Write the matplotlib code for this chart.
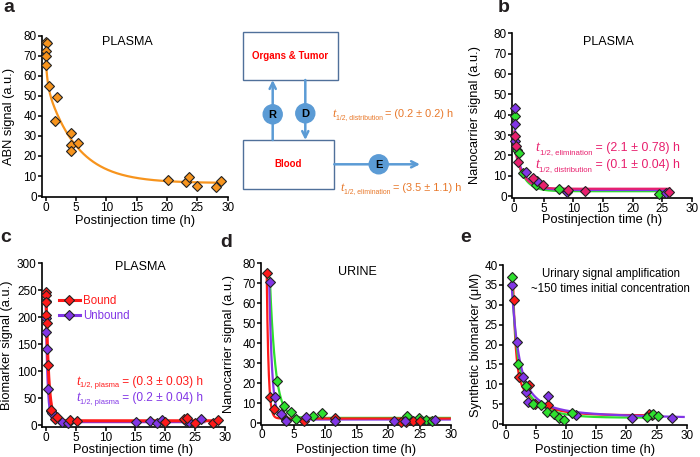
import numpy as np
import matplotlib
matplotlib.use("Agg")
import matplotlib.pyplot as plt
from matplotlib.patches import Rectangle, Circle
from matplotlib.lines import Line2D

plt.rcParams["font.family"] = ["Liberation Sans", "DejaVu Sans"]

ORANGE = "#F7941D"
RED = "#FF1A1A"
PURPLE = "#8236E6"
GREEN = "#2EE02E"
PINK = "#E8206E"
BLUE = "#5B9BD5"
TXT_ORANGE = "#E8782A"

# ---------------- data ----------------
# a: ABN signal in plasma
a_t = [0.1, 0.15, 0.1, 0.05, 0.1, 0.5, 1.9, 1.6, 4.2, 4.1, 4.2, 5.3, 20.2, 23.1, 23.6, 24.9, 28.0, 28.9]
a_y = [77, 76.5, 72.5, 70, 65.5, 55, 49.3, 37.6, 31.3, 25.5, 22.6, 26.6, 7.8, 7.0, 9.7, 5.0, 4.3, 7.3]
a_fit = dict(c=6.5, amps=[12, 50], halves=[0.2, 3.5], t0=0.0, t1=29.0)

# b: nanocarrier signal in plasma
b_purple_t = [0.1, 0.1, 0.2, 1.9, 3.8, 8.9, 25.7]
b_purple_y = [43.4, 35.2, 27.3, 12.0, 7.5, 2.1, 1.3]
b_green_t = [0.05, 0.5, 0.8, 1.5, 3.7, 7.6, 24.5]
b_green_y = [39.5, 22.5, 21.2, 11.5, 5.4, 3.4, 1.1]
b_pink_t = [0.1, 0.3, 0.7, 3.1, 4.9, 9.0, 11.9, 26.2]
b_pink_y = [29.6, 24.7, 16.9, 9.0, 5.6, 3.0, 2.5, 1.8]
b_purple_fit = dict(c=3.0, amps=[18, 22], halves=[0.12, 1.1], t0=0.0, t1=26.0)
b_green_fit = dict(c=2.4, amps=[15, 22], halves=[0.1, 1.0], t0=0.0, t1=25.0)
b_pink_fit = dict(c=3.6, amps=[8, 20], halves=[0.1, 1.0], t0=0.0, t1=26.3)

# c: biomarker signal in plasma
c_bound_t = [0.0, 0.02, 0.05, 0.07, 0.1, 0.33, 0.9, 1.5, 1.8, 4.1, 5.2, 20.0, 23.1, 23.6, 25.0, 28.0, 28.8]
c_bound_y = [247, 241, 229, 205, 189, 112, 28, 12, 15, 9, 8, 6, 10.5, 13, 4, 4.5, 9]
c_unbound_t = [0.02, 0.05, 0.08, 0.1, 0.3, 0.8, 1.0, 2.6, 3.7, 15.1, 17.4, 18.6, 19.4, 23.5, 24.0, 26.0]
c_unbound_y = [231, 198, 173, 141, 66, 26, 22, 6, 4, 6, 7, 4.5, 10, 8, 5, 10.5]
c_bound_fit = dict(c=8, amps=[238], halves=[0.3], t0=0.0, t1=29.0)
c_unbound_fit = dict(c=6, amps=[228], halves=[0.2], t0=0.0, t1=26.5)

# d: nanocarrier signal in urine
d_red_t = [0.75, 1.3, 1.9, 3.7, 6.6, 11.5, 22.1, 22.9, 24.0, 25.0]
d_red_y = [75.3, 13.3, 7.0, 1.6, 1.3, 2.5, 0.8, 0.8, 1.0, 1.3]
d_purple_t = [1.2, 2.0, 2.9, 3.8, 7.0, 11.6, 20.9, 22.7, 27.5]
d_purple_y = [70.5, 13.3, 4.7, 1.3, 3.3, 1.3, 1.3, 1.0, 1.6]
d_green_t = [2.4, 3.45, 4.6, 5.4, 8.0, 9.5, 23.0, 24.9, 26.1, 27.0]
d_green_y = [21.2, 8.6, 5.8, 2.3, 3.8, 5.0, 3.6, 2.4, 1.6, 1.0]
d_red_fit = dict(c=2.4, amps=[73], halves=[0.2], t0=0.7, t1=29.8)
d_purple_fit = dict(c=1.9, amps=[69], halves=[0.32], t0=1.1, t1=29.8)
d_green_fit = dict(c=2.7, amps=[70], halves=[0.62], t0=1.2, t1=29.8)

# e: synthetic biomarker in urine
e_green_t = [0.95, 2.05, 3.3, 4.5, 5.8, 6.8, 7.9, 8.8, 9.7, 10.9, 23.4, 24.4, 25.2]
e_green_y = [36.9, 15.1, 9.6, 5.0, 4.9, 3.1, 2.5, 1.6, 1.0, 2.7, 1.8, 2.4, 2.1]
e_purple_t = [0.95, 1.9, 2.9, 3.3, 3.7, 6.9, 11.6, 20.9, 27.5]
e_purple_y = [35.0, 20.7, 11.9, 8.1, 5.6, 7.1, 2.3, 1.6, 1.6]
e_red_t = [1.4, 2.2, 3.8, 4.8, 7.0, 23.8, 24.2]
e_red_y = [31.2, 11.7, 9.8, 5.0, 4.8, 2.5, 2.3]
e_red_fit = dict(c=2.2, amps=[22, 10], halves=[0.3, 2.5], t0=1.2, t1=25.5)
e_purple_fit = dict(c=1.1, amps=[20, 11, 2.5], halves=[0.7, 2.2, 15], t0=0.95, t1=29.5)
e_green_fit = dict(c=1.6, amps=[22, 14], halves=[0.5, 2.2], t0=0.95, t1=25.5)

# ---------------- layout helpers (pixels of a 700x457 canvas) ----------------
W, H = 700, 457
TICK_FS = 8.5
LABEL_FS = 9.3
fig = plt.figure(figsize=(7.0, 4.57), dpi=100)
renderer = fig.canvas.get_renderer()


def fx(px):
    return px / W


def fy(py):
    return 1 - py / H


def decay_curve(ax, fit, color, lw=1.6):
    t = np.linspace(fit["t0"], fit["t1"], 500)
    y = np.full_like(t, fit["c"])
    for amp, half in zip(fit["amps"], fit["halves"]):
        y += amp * np.exp(-np.log(2) * (t - fit["t0"]) / half)
    ax.plot(t, y, color=color, lw=lw, zorder=2)


def points(ax, t, y, color, ms=5.0):
    ax.plot(t, y, "D", ms=ms, mfc=color, mec="#222222", mew=0.8, zorder=3, clip_on=False)


def make_axes(rect, xlim, ylim, ystep, ylabel, ylab_px, xlab_py):
    left, right, top, bottom = rect
    ax = fig.add_axes([fx(left), fy(bottom), (right - left) / W, (bottom - top) / H])
    ax.set_xlim(*xlim)
    ax.set_ylim(*ylim)
    ax.set_xticks(np.arange(0, 31, 5))
    ax.set_yticks(np.arange(0, ylim[1] + 0.01, ystep))
    for s in ("top", "right"):
        ax.spines[s].set_visible(False)
    for s in ("left", "bottom"):
        ax.spines[s].set_linewidth(1.2)
    ax.tick_params(direction="out", length=3, width=1.1, pad=0.6, labelsize=TICK_FS)
    ax.set_xlabel("Postinjection time (h)", fontsize=LABEL_FS)
    ax.set_ylabel(ylabel, fontsize=LABEL_FS)
    ax.xaxis.set_label_coords(0.5, (bottom - xlab_py) / (bottom - top))
    ax.yaxis.set_label_coords((ylab_px - left) / (right - left), 0.5)
    ax.xaxis.label.set_va("center")
    ax.yaxis.label.set_va("center")
    return ax


def panel_letter(px, py, s):
    fig.text(fx(px), fy(py), s, fontsize=14, fontweight="bold", color="#231F20",
             ha="center", va="center")


def half_life(x_px, y_px, sub, rest, color, size, ha="left"):
    """t with a small subscript, followed by ' = value', laid out piece by piece."""
    size_px = size * 100 / 72
    parts = [fig.text(0, 0, "t", fontsize=size * 1.15, family="Liberation Serif",
                      style="italic", color=color, va="baseline"),
             fig.text(0, 0, sub, fontsize=size * 0.63, color=color, va="baseline"),
             fig.text(0, 0, " = " + rest, fontsize=size, color=color, va="baseline")]
    widths = [p.get_window_extent(renderer).width for p in parts]
    x = x_px - sum(widths) if ha == "right" else x_px
    base = y_px + 0.36 * size_px
    for p, w, dy in zip(parts, widths, [0, 0.22 * size_px, 0]):
        p.set_position((fx(x), fy(base + dy)))
        x += w


# ---------------- panel a ----------------
ax_a = make_axes((41.7, 227.7, 35.7, 197.3), (-0.66, 30), (-0.6, 80), 10,
                 "ABN signal (a.u.)", 9, 220.5)
decay_curve(ax_a, a_fit, ORANGE)
points(ax_a, a_t, a_y, ORANGE, ms=5.3)
fig.text(fx(127), fy(42), "PLASMA", fontsize=9, ha="center", va="center")
panel_letter(9, 7, "a")

# ---------------- compartment diagram ----------------
ax_dg = fig.add_axes([0, 0, 1, 1], zorder=-1)
ax_dg.set_xlim(0, W)
ax_dg.set_ylim(H, 0)
ax_dg.axis("off")
for (x0, y0, w, h), label, cy in [((242.7, 31.7, 95.6, 48.3), "Organs & Tumor", 56),
                                  ((242.7, 140, 91.6, 49), "Blood", 164.3)]:
    ax_dg.add_patch(Rectangle((x0, y0), w, h, fill=False, ec="#50709A", lw=1.0))
    ax_dg.text(x0 + w / 2, cy, label, color="#FF0000", fontsize=7, fontweight="bold",
               ha="center", va="center")
arrow = dict(arrowstyle="->", color=BLUE, lw=1.8, mutation_scale=11, shrinkA=0, shrinkB=0)
ax_dg.annotate("", xy=(272.7, 80), xytext=(272.7, 140), arrowprops=arrow)
ax_dg.annotate("", xy=(305.3, 140), xytext=(305.3, 80), arrowprops=arrow)
ax_dg.annotate("", xy=(420, 164.3), xytext=(334.3, 164.3), arrowprops=arrow)
for cx, cy, s in [(272.7, 114.3, "R"), (305.3, 113.3, "D"), (378.7, 164.3, "E")]:
    ax_dg.add_patch(Circle((cx, cy), 9.5, color=BLUE, zorder=3))
    ax_dg.text(cx, cy + 0.5, s, fontsize=8, fontweight="bold", ha="center", va="center", zorder=4)
half_life(332, 113, "1/2, distribution", "(0.2 ± 0.2) h", TXT_ORANGE, 7.9)
half_life(340, 187, "1/2, elimination", "(3.5 ± 1.1) h", TXT_ORANGE, 7.9)

# ---------------- panel b ----------------
ax_b = make_axes((511.7, 691.7, 33.3, 197.5), (-0.44, 30), (-0.7, 80), 10,
                 "Nanocarrier signal (a.u.)", 475, 220.5)
decay_curve(ax_b, b_green_fit, GREEN)
decay_curve(ax_b, b_purple_fit, PURPLE)
decay_curve(ax_b, b_pink_fit, PINK)
points(ax_b, b_green_t, b_green_y, GREEN, ms=5.0)
points(ax_b, b_purple_t, b_purple_y, PURPLE, ms=5.0)
points(ax_b, b_pink_t, b_pink_y, PINK, ms=5.0)
fig.text(fx(608), fy(42), "PLASMA", fontsize=9, ha="center", va="center")
half_life(680, 147, "1/2, elimination", "(2.1 ± 0.78) h", PINK, 8.9, ha="right")
half_life(680, 163.5, "1/2, distribution", "(0.1 ± 0.04) h", PINK, 8.9, ha="right")
panel_letter(504, 7, "b")

# ---------------- panel c ----------------
ax_c = make_axes((41.7, 225, 263.3, 426.7), (-0.72, 30), (-3, 300), 50,
                 "Biomarker signal (a.u.)", 7, 449.5)
decay_curve(ax_c, c_unbound_fit, PURPLE, lw=2.0)
decay_curve(ax_c, c_bound_fit, RED, lw=2.2)
points(ax_c, c_unbound_t, c_unbound_y, PURPLE, ms=4.6)
points(ax_c, c_bound_t, c_bound_y, RED, ms=4.6)
fig.text(fx(140), fy(267), "PLASMA", fontsize=9, ha="center", va="center")
handles = [Line2D([], [], color=RED, lw=2.2, marker="D", ms=4.6, mfc=RED, mec="#222222", mew=0.8),
           Line2D([], [], color=PURPLE, lw=2.2, marker="D", ms=4.6, mfc=PURPLE, mec="#222222", mew=0.8)]
leg = ax_c.legend(handles, ["Bound", "Unbound"], loc="upper left", frameon=False,
                  bbox_to_anchor=(fx(59), fy(295)), bbox_transform=fig.transFigure,
                  fontsize=8.3, handlelength=1.8, handletextpad=0.3, borderpad=0,
                  borderaxespad=0, labelspacing=0.3)
leg.get_texts()[0].set_color(RED)
leg.get_texts()[1].set_color(PURPLE)
half_life(203, 380.5, "1/2, plasma", "(0.3 ± 0.03) h", RED, 8.6, ha="right")
half_life(203, 397, "1/2, plasma", "(0.2 ± 0.04) h", PURPLE, 8.6, ha="right")
panel_letter(6, 238, "c")

# ---------------- panel d ----------------
ax_d = make_axes((260.7, 451, 263.3, 424.5), (-0.25, 30), (-0.6, 80), 10,
                 "Nanocarrier signal (a.u.)", 229, 449.5)
decay_curve(ax_d, d_green_fit, GREEN)
decay_curve(ax_d, d_purple_fit, PURPLE)
decay_curve(ax_d, d_red_fit, RED)
points(ax_d, d_green_t, d_green_y, GREEN, ms=4.8)
points(ax_d, d_red_t, d_red_y, RED, ms=4.8)
points(ax_d, d_purple_t, d_purple_y, PURPLE, ms=4.8)
fig.text(fx(357), fy(272), "URINE", fontsize=9, ha="center", va="center")
panel_letter(226, 243, "d")

# ---------------- panel e ----------------
ax_e = make_axes((502.7, 686.7, 265, 425), (-0.55, 30), (-0.25, 40), 5,
                 "Synthetic biomarker (μM)", 476, 449.5)
decay_curve(ax_e, e_red_fit, RED)
decay_curve(ax_e, e_green_fit, GREEN)
decay_curve(ax_e, e_purple_fit, PURPLE)
points(ax_e, e_red_t, e_red_y, RED, ms=4.8)
points(ax_e, e_purple_t, e_purple_y, PURPLE, ms=4.8)
points(ax_e, e_green_t, e_green_y, GREEN, ms=4.8)
fig.text(fx(611), fy(273.5), "Urinary signal amplification", fontsize=8.3, ha="center", va="center")
fig.text(fx(610), fy(288.5), "~150 times initial concentration", fontsize=8.3, ha="center", va="center")
panel_letter(466, 237, "e")

fig.savefig("out.png", dpi=100, facecolor="white")
